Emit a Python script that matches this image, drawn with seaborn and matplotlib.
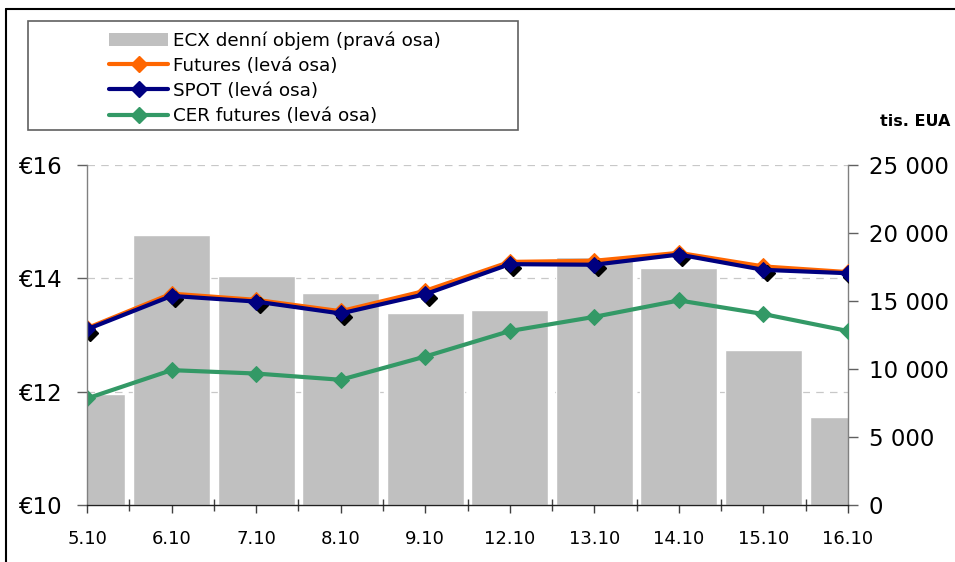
import numpy as np
import pandas as pd
import matplotlib
matplotlib.use("Agg")
import matplotlib.pyplot as plt
import matplotlib.transforms as mtransforms
from matplotlib.patches import Rectangle, Patch
from matplotlib.lines import Line2D
from matplotlib.ticker import FuncFormatter, FixedLocator
import seaborn as sns

# ── data ─────────────────────────────────────────────────────────────────────
DNY = ["5.10", "6.10", "7.10", "8.10", "9.10", "12.10", "13.10", "14.10", "15.10", "16.10"]
OBJEM = [8150, 19850, 16850, 15600, 14100, 14350, 18250, 17450, 11400, 6500]     # tis. EUA
FUTURES = [13.12, 13.73, 13.62, 13.42, 13.78, 14.29, 14.31, 14.45, 14.21, 14.11]
SPOT = [13.10, 13.69, 13.59, 13.38, 13.72, 14.25, 14.24, 14.42, 14.15, 14.09]
CER = [11.88, 12.38, 12.32, 12.21, 12.62, 13.07, 13.32, 13.61, 13.37, 13.07]
LEVE_TICKY = [10, 12, 14, 16]
PRAVE_TICKY = [0, 5000, 10000, 15000, 20000, 25000]

LABELS = ["ECX denní objem (pravá osa)", "Futures (levá osa)",
          "SPOT (levá osa)", "CER futures (levá osa)"]
COLORES = {"objem": "#C0C0C0", "futures": "#FF6600", "spot": "#000080", "cer": "#339966"}

df = pd.DataFrame({"pos": np.arange(len(DNY)), "den": DNY, "objem": OBJEM,
                   "futures": FUTURES, "spot": SPOT, "cer": CER})

sns.set_style("white")
plt.rcParams["font.family"] = ["DejaVu Sans"]
plt.rcParams["text.color"] = "black"
plt.rcParams["xtick.labelcolor"] = "black"
plt.rcParams["ytick.labelcolor"] = "black"

W, H = 955, 562
fig = plt.figure(figsize=(W / 100, H / 100), dpi=100)
ax = fig.add_axes([87 / W, 1 - 505 / H, (848 - 87) / W, (505 - 165) / H])
ax2 = ax.twinx()

# lines above the bars
ax.set_zorder(ax2.get_zorder() + 1)
ax.patch.set_visible(False)

# ── sloupce: denní objem (pravá osa) ──
sns.barplot(data=df, x="pos", y="objem", native_scale=True, ax=ax2,
            color=COLORES["objem"], saturation=1, width=0.91, errorbar=None)

# gridlines of the left axis, drawn behind the bars
grid_tr = mtransforms.blended_transform_factory(ax2.transAxes, ax.transData)
for v in LEVE_TICKY[1:]:
    ax2.plot([0, 1], [v, v], transform=grid_tr, color="#C8C8C8", lw=0.9,
             ls=(0, (6, 5)), zorder=0)

# ── lines (levá osa) ──
lw, ms = 3.0, 8.5
sns.lineplot(data=df, x="pos", y="futures", ax=ax, color=COLORES["futures"],
             marker="D", markersize=ms, markeredgecolor=COLORES["futures"], linewidth=lw)
shadow = ax.transData + mtransforms.ScaledTranslation(2.5 / 72, -2.5 / 72, fig.dpi_scale_trans)
ax.plot(df["pos"], df["spot"], ls="none", marker="D", markersize=ms, color="black",
        transform=shadow)
sns.lineplot(data=df, x="pos", y="spot", ax=ax, color=COLORES["spot"],
             marker="D", markersize=ms, markeredgecolor=COLORES["spot"], linewidth=lw)
sns.lineplot(data=df, x="pos", y="cer", ax=ax, color=COLORES["cer"],
             marker="D", markersize=ms, markeredgecolor=COLORES["cer"], linewidth=lw)

# ── osy ──
ax.set_xlim(0, len(DNY) - 1)
ax.set_ylim(LEVE_TICKY[0], LEVE_TICKY[-1])
ax2.set_ylim(PRAVE_TICKY[0], PRAVE_TICKY[-1])
ax.set_xlabel("")
ax.set_ylabel("")
ax2.set_ylabel("")

ax.set_xticks(df["pos"])
ax.set_xticklabels(DNY, fontsize=13)
ax.xaxis.set_minor_locator(FixedLocator(df["pos"][:-1] + 0.5))
ax.tick_params(axis="x", which="major", direction="out", length=6, width=1,
               color="#404040", pad=12, bottom=True)
ax.tick_params(axis="x", which="minor", direction="inout", length=8, width=1,
               color="#404040", bottom=True)

ax.set_yticks(LEVE_TICKY)
ax.yaxis.set_major_formatter(FuncFormatter(lambda v, p: f"€{v:.0f}"))
ax.tick_params(axis="y", direction="out", length=7, width=1, color="#606060",
               labelsize=16.5, pad=11, left=True)

ax2.set_yticks(PRAVE_TICKY)
ax2.yaxis.set_major_formatter(FuncFormatter(lambda v, p: f"{v:,.0f}".replace(",", " ")))
ax2.tick_params(axis="y", direction="out", length=7, width=1, color="#606060",
                labelsize=16.5, pad=8, right=True)

for s in ["top", "right"]:
    ax.spines[s].set_visible(False)
ax.spines["left"].set_color("#808080")
ax.spines["bottom"].set_color("#202020")
for s in ["top", "left", "bottom"]:
    ax2.spines[s].set_visible(False)
ax2.spines["right"].set_color("#808080")
for sp in list(ax.spines.values()) + list(ax2.spines.values()):
    sp.set_linewidth(1)

fig.text(950 / W, 1 - 122 / H, "tis. EUA", ha="right", va="center",
         fontsize=11.5, fontweight="bold")

# ── legenda ──
handles = [Patch(facecolor=COLORES["objem"], edgecolor="none"),
           Line2D([], [], color=COLORES["futures"], lw=lw, marker="D", markersize=ms),
           Line2D([], [], color=COLORES["spot"], lw=lw, marker="D", markersize=ms),
           Line2D([], [], color=COLORES["cer"], lw=lw, marker="D", markersize=ms)]
fig.legend(handles, LABELS, loc="upper left", bbox_to_anchor=(100 / W, 1 - 22 / H),
           frameon=False, fontsize=13.2, borderpad=0, labelspacing=0.39,
           handlelength=3.2, handletextpad=0.3, handleheight=0.75)
fig.add_artist(Rectangle((28 / W, 1 - 130 / H), (518 - 28) / W, (130 - 21) / H,
                         transform=fig.transFigure, fill=False,
                         edgecolor="#606060", lw=1.2))

# outer frame (top and left only)
fig.add_artist(Line2D([6 / W, 6 / W], [0, 1 - 9 / H], color="black", lw=1.5,
                      transform=fig.transFigure))
fig.add_artist(Line2D([6 / W, 1], [1 - 9 / H, 1 - 9 / H], color="black", lw=1.5,
                      transform=fig.transFigure))

fig.savefig("out.png", dpi=100)
plt.close(fig)
